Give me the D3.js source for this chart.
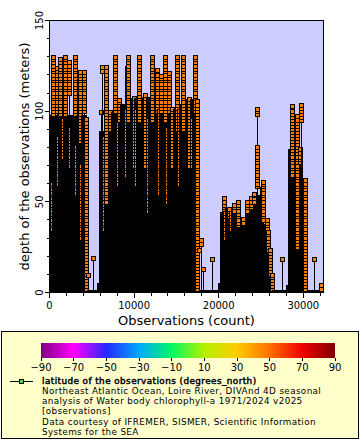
<!DOCTYPE html>
<html><head><meta charset="utf-8">
<script src="https://cdn.jsdelivr.net/npm/d3@7"></script>
<style>
html,body{margin:0;padding:0;background:#fff;}
svg{display:block;font-family:"DejaVu Sans",sans-serif;}
</style>
</head><body>
<svg id="c" width="360" height="440"></svg>
<script>
// ---------------- data ----------------
const xDomain = [0, 32390];           // observation count axis
const yDomain = [0, 150];             // depth (m)
const xMajorTicks = [0, 10000, 20000, 30000];
const xMinorTicks = [2000,4000,6000,8000,12000,14000,16000,18000,22000,24000,26000,28000,32000];
const yMajorTicks = [0, 50, 100, 150];
const yMinorTicks = [10,20,30,40,60,70,80,90,110,120,130,140];

// black mass of profiles: run start (observation index) and depth reached
const runObs   = [0,240,1000,1600,2420,3130,3720,4410,5580,5890,6440,7000,7260,7980,8040,8340,9040,9630,10000,10220,10820,11360,11640,12470,12940,13890,14360,14610,15250,15430,16130,16560,16840,17770,19950,20150,20390,20740,20860,21450,21690,22040,22690,23110,23640,24050,24880,25410,25650,25890,26120,26360,27950,28230,30020,30500];
const runDepth = [98,98,98,98,98,98,98,1.2,5,89,89,99.5,99.5,104,104,104,104,107,107,107,108,108,108,105,105,105,101,101,101,104,106.5,106.5,106.5,1.2,5,44.4,47,47,45,45,48.5,47,39.5,49,52,54,58,38,31,21,8,1.2,4,79,58,1.2];

// individual profiles with visible markers: observation index, max depth, deepest visible marker
const stemObs = [390,830,1300,1870,2360,2960,3550,4110,4260,4550,5120,
  6060,6150,6710,7190,7710,8270,8870,9310,9930,10540,11290,12120,12710,13180,13620,14070,14540,15040,15820,16490,17200,17490,17640,17870,18140,19170,
  20590,21160,21840,22340,22900,23400,23820,24170,24530,24530,25240,25710,25830,26060,26260,27450,
  28700,29310,29670,29690,30260,31260,32150,
  240,1000,1600,2420,3130,3720,6440,8040,9040,10220,11640,12940,13890,15250,16840,20740,21450];
const stemTop = [130,124,128.5,130,127,130,121.5,121.5,95.5,9.5,18.8,
  99.4,124.2,124.2,99.5,130,106,125,130,107,130,109,130,122.5,119.6,130,121,101,130,130,106.5,130,105.5,23.5,29,12.8,18.5,
  52.3,46,48.5,50,40.5,50,52,54.5,101,80,61,40,33.4,23.6,9.9,18.5,
  102.7,97.5,79,103.3,62,18.5,4.2,
  60,85,95,90,80,70,85,95,100,100,95,100,90,100,95,44,44];
const stemLow = [98,100,98,98,110,98,83,100,0,9.5,18.8,
  99.4,122,50,90,100,95,null,95,70,95,70,95,100,100,95,100,70,90,90,70,100,0,23.5,26,12.8,18.5,
  35,42,44,37,38,45,47,50,97.5,58,40,33,23,10,0,18.5,
  65,24,72,94,0,18.5,1,
  35,60,75,70,55,30,35,60,65,60,45,55,50,60,70,30,35];

// sampled depth levels of the profiles (m)
const levels = [0,2,3.5,5,7,8.5,10,12,13.5,15,17,18.5,20,22,23.5,25,27,28.5,30,32,33.5,35,37,38.5,40,42,43.5,45,47,48.5,50,52,53.5,55,57,58.5,60,62,63.5,65,67,68.5,70,72,73.5,75,77,78.5,80,82,83.5,85,87,88.5,90,92,93.5,95,97,98.5,100,102,103.5,105,107,108.5,110,112,113.5,115,117,118.5,120,122,123.5,125,127,128.5,130];

const stationLatitude = 47.25;

// colour bar
const cbValues = [-90,-70,-50,-30,-10,10,30,50,70,90];
const cbColors = ["#800080","#ff00ff","#2828ff","#00a8ff","#00f864","#b4f000","#ffcc00","#ff7000","#f00000","#800000"];

const xTitle = "Observations (count)";
const yTitle = "depth of the observations (meters)";
const legendTitle = "latitude of the observations (degrees_north)";
const legendLines = [
  "Northeast Atlantic Ocean, Loire River, DIVAnd 4D seasonal",
  "analysis of Water body chlorophyll-a 1971/2024 v2025",
  "[observations]",
  "Data courtesy of IFREMER, SISMER, Scientific Information",
  "Systems for the SEA"
];

// ---------------- drawing ----------------
const svg = d3.select("#c");
const L = 49.5, R = 323.5, T = 20.5, B = 292.5;
const x = d3.scaleLinear().domain(xDomain).range([L, R]);
const y = d3.scaleLinear().domain(yDomain).range([B, T]);
const color = d3.scaleLinear().domain(cbValues).range(cbColors).interpolate(d3.interpolateRgb);
const markerFill = color(stationLatitude);

svg.append("rect").attr("x",0).attr("y",0).attr("width",360).attr("height",440).attr("fill","#fff");
svg.append("rect").attr("x",L).attr("y",T).attr("width",R-L).attr("height",B-T).attr("fill","#ccccff");

const defs = svg.append("defs");
defs.append("clipPath").attr("id","clip").append("rect")
  .attr("x",L).attr("y",T).attr("width",R-L).attr("height",B-T);

const items = [];
runObs.forEach((o,i)=>items.push({kind:"run",obs:o,end:i<runObs.length-1?runObs[i+1]:xDomain[1],depth:runDepth[i],ord:1}));
stemObs.forEach((o,i)=>items.push({kind:"stem",obs:o,top:stemTop[i],low:stemLow[i],ord:0}));
items.sort((a,b)=>a.obs-b.obs || a.ord-b.ord);

const g = svg.append("g").attr("clip-path","url(#clip)").attr("shape-rendering","crispEdges");
const y0 = Math.round(y(0));
items.forEach(it=>{
  if(it.kind==="run"){
    const x0 = Math.round(x(it.obs)), x1 = Math.round(x(it.end));
    const yt = Math.round(y(it.depth));
    if(x1>x0 && it.depth>0)
      g.append("rect").attr("x",x0).attr("y",yt).attr("width",x1-x0).attr("height",y0-yt+1).attr("fill","#000");
  } else {
    const cx = Math.round(x(it.obs));
    g.append("line").attr("x1",cx+0.5).attr("x2",cx+0.5)
      .attr("y1",y(0)).attr("y2",y(it.top)).attr("stroke","#000").attr("stroke-width",1);
    if(it.low!==null){
      const ds = levels.filter(l=>l>=it.low && l<=it.top-1).concat([it.top]);
      ds.forEach(d=>{
        const cy = Math.round(y(d));
        g.append("rect").attr("x",cx-1.5).attr("y",cy-1.5).attr("width",4).attr("height",4)
          .attr("fill",markerFill).attr("stroke","#000").attr("stroke-width",1);
      });
    }
  }
});

// frame
svg.append("rect").attr("x",L).attr("y",T).attr("width",R-L).attr("height",B-T)
  .attr("fill","none").attr("stroke","#000").attr("stroke-width",1).attr("shape-rendering","crispEdges");

// axes
function styleAxis(sel){
  sel.attr("shape-rendering","crispEdges");
  sel.select(".domain").remove();
  sel.selectAll("line").attr("stroke","#000");
  sel.selectAll("text").attr("fill","#000").attr("font-family","DejaVu Sans").attr("font-size",10);
}
const xAxis = svg.append("g").attr("transform",`translate(0,${B})`)
  .call(d3.axisBottom(x).tickValues(xMajorTicks).tickSize(5).tickFormat(d3.format("d")).offset(0));
styleAxis(xAxis);
xAxis.selectAll("text").attr("y",16).attr("dy",0);
const xAxisMinor = svg.append("g").attr("transform",`translate(0,${B})`)
  .call(d3.axisBottom(x).tickValues(xMinorTicks).tickSize(3).tickFormat("").offset(0));
styleAxis(xAxisMinor);

const yAxis = svg.append("g").attr("transform",`translate(${L},0)`)
  .call(d3.axisLeft(y).tickValues(yMajorTicks).tickSize(5).tickFormat(d3.format("d")).offset(0));
styleAxis(yAxis);
yAxis.selectAll("text").attr("x",0).attr("y",-7).attr("dy",0)
  .attr("text-anchor","middle").attr("transform","rotate(-90)");
const yAxisMinor = svg.append("g").attr("transform",`translate(${L},0)`)
  .call(d3.axisLeft(y).tickValues(yMinorTicks).tickSize(3).tickFormat("").offset(0));
styleAxis(yAxisMinor);

svg.append("text").attr("x",(L+R)/2).attr("y",324.5).attr("text-anchor","middle")
  .attr("font-size",13).attr("fill","#000").text(xTitle);
svg.append("text").attr("transform",`translate(28.5,${(T+B)/2}) rotate(-90)`).attr("text-anchor","middle")
  .attr("font-size",13).attr("fill","#000").text(yTitle);

// legend box
svg.append("rect").attr("x",1.5).attr("y",331.5).attr("width",357).attr("height",107)
  .attr("fill","#ffffcc").attr("stroke","#000").attr("stroke-width",1).attr("shape-rendering","crispEdges");

const cb = d3.scaleLinear().domain([cbValues[0], cbValues[cbValues.length-1]]).range([41,335]);
const grad = defs.append("linearGradient").attr("id","cbgrad").attr("x1","0%").attr("x2","100%");
cbValues.forEach((v,i)=>grad.append("stop").attr("offset",((v-cbValues[0])/(cbValues[cbValues.length-1]-cbValues[0]))*100+"%").attr("stop-color",cbColors[i]));
svg.append("rect").attr("x",cb.range()[0]).attr("y",343).attr("width",cb.range()[1]-cb.range()[0]).attr("height",15)
  .attr("fill","url(#cbgrad)");
const cbAxis = svg.append("g").attr("transform","translate(0,358)")
  .call(d3.axisBottom(cb).tickValues(cbValues).tickSize(3).tickFormat(d3.format("d")).offset(0));
styleAxis(cbAxis);
cbAxis.selectAll("text").attr("y",12.5).attr("dy",0);

// legend entry
svg.append("line").attr("x1",10).attr("x2",33).attr("y1",381.5).attr("y2",381.5)
  .attr("stroke","#000").attr("shape-rendering","crispEdges");
svg.append("rect").attr("x",19.5).attr("y",379.5).attr("width",4).attr("height",4)
  .attr("fill","#44dd44").attr("stroke","#000").attr("shape-rendering","crispEdges");
const legFont = 8.8, legStep = 10.25, legBase = 383.5;
svg.append("text").attr("x",42).attr("y",legBase).attr("font-size",legFont)
  .attr("letter-spacing",0.45)
  .attr("fill","#000").attr("stroke","#000").attr("stroke-width",0.45).text(legendTitle);
legendLines.forEach((t,i)=>svg.append("text").attr("x",42).attr("y",legBase+(i+1)*legStep)
  .attr("font-size",legFont).attr("letter-spacing",0.38).attr("fill","#000").text(t));
</script>
</body></html>
